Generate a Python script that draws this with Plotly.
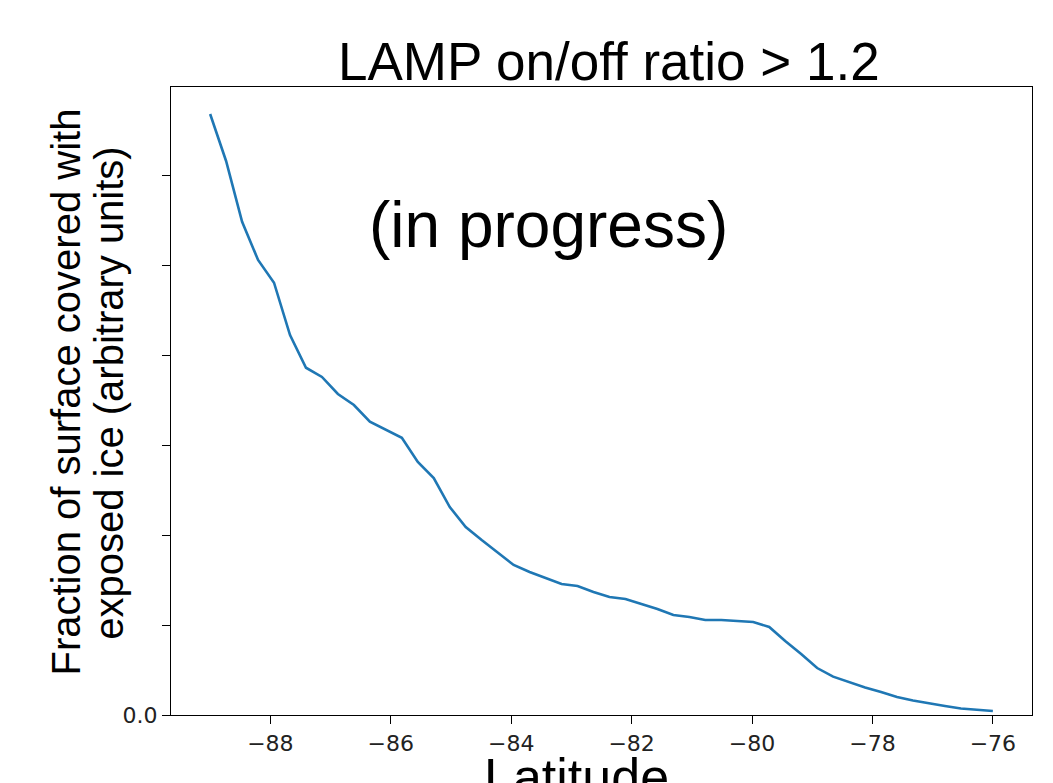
import plotly.graph_objects as go

# Latitude bins (degrees) and fraction of surface with exposed ice (arbitrary units)
latitude = [
    -89.000, -88.735, -88.469, -88.204, -87.939, -87.673, -87.408, -87.143, -86.878, -86.612,
    -86.347, -86.082, -85.816, -85.551, -85.286, -85.020, -84.755, -84.490, -84.224, -83.959,
    -83.694, -83.429, -83.163, -82.898, -82.633, -82.367, -82.102, -81.837, -81.571, -81.306,
    -81.041, -80.776, -80.510, -80.245, -79.980, -79.714, -79.449, -79.184, -78.918, -78.653,
    -78.388, -78.122, -77.857, -77.592, -77.327, -77.061, -76.796, -76.531, -76.265, -76.000,
]
ice_fraction = [
    6.678, 6.156, 5.481, 5.056, 4.803, 4.222, 3.859, 3.756, 3.567, 3.444,
    3.259, 3.167, 3.081, 2.811, 2.633, 2.311, 2.089, 1.944, 1.800, 1.667,
    1.589, 1.522, 1.456, 1.433, 1.367, 1.311, 1.289, 1.233, 1.178, 1.111,
    1.089, 1.056, 1.056, 1.044, 1.033, 0.978, 0.822, 0.678, 0.522, 0.426,
    0.367, 0.306, 0.256, 0.200, 0.161, 0.128, 0.100, 0.072, 0.056, 0.044,
]

x_tick_vals = [-88, -86, -84, -82, -80, -78, -76]
x_tick_text = ["\u221288", "\u221286", "\u221284", "\u221282", "\u221280", "\u221278", "\u221276"]
y_tick_vals = [0, 1, 2, 3, 4, 5, 6]
y_tick_text = ["0.0", "", "", "", "", "", ""]

TEXT_FONT = "Liberation Sans, Arial, sans-serif"
TICK_FONT = "DejaVu Sans, sans-serif"

fig = go.Figure()
fig.add_trace(go.Scatter(
    x=latitude,
    y=ice_fraction,
    mode="lines",
    line=dict(color="#1f77b4", width=2.6),
    showlegend=False,
))

axis_common = dict(
    showline=True,
    linecolor="black",
    linewidth=1.4,
    mirror=True,
    ticks="outside",
    ticklen=8,
    tickwidth=1.4,
    tickcolor="black",
    showgrid=False,
    zeroline=False,
    tickfont=dict(family=TICK_FONT, size=22, color="#222222"),
)

fig.update_xaxes(
    range=[-89.65, -75.35],
    tickmode="array",
    tickvals=x_tick_vals,
    ticktext=x_tick_text,
    **axis_common,
)
fig.update_yaxes(
    range=[0, 6.978],
    tickmode="array",
    tickvals=y_tick_vals,
    ticktext=y_tick_text,
    **axis_common,
)

annotations = [
    dict(text="LAMP on/off ratio > 1.2", x=0.5087, y=1.0414,
         font=dict(family=TEXT_FONT, size=53, color="black")),
    dict(text="(in progress)", x=0.4379, y=0.780,
         font=dict(family=TEXT_FONT, size=64, color="black")),
    dict(text="Latitude", x=0.4704, y=-0.0995,
         font=dict(family=TEXT_FONT, size=52, color="black")),
    dict(text="Fraction of surface covered with", x=-0.1220, y=0.515, textangle=-90,
         font=dict(family=TEXT_FONT, size=40, color="black")),
    dict(text="exposed ice (arbitrary units)", x=-0.0720, y=0.513, textangle=-90,
         font=dict(family=TEXT_FONT, size=40, color="black")),
]
for a in annotations:
    a.update(xref="paper", yref="paper", xanchor="center", yanchor="middle",
             showarrow=False)

fig.update_layout(
    width=1053,
    height=783,
    margin=dict(l=171, r=21, t=87, b=68),
    paper_bgcolor="white",
    plot_bgcolor="white",
    annotations=annotations,
)

fig.write_html("out.html")
